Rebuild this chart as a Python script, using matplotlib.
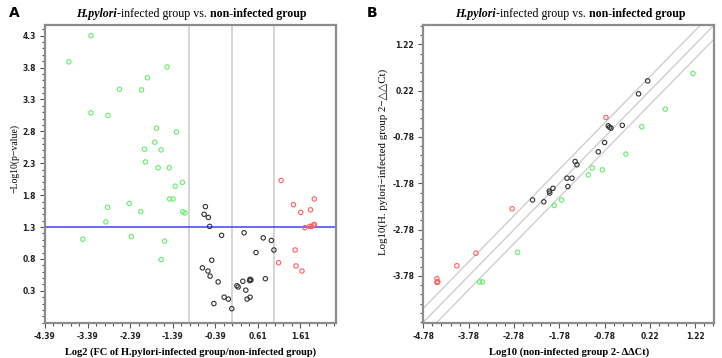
import numpy as np
import matplotlib
matplotlib.use("Agg")
import matplotlib.pyplot as plt
from matplotlib.ticker import MultipleLocator, FixedLocator
from matplotlib.offsetbox import TextArea, HPacker, AnnotationBbox

# ---- panel A: volcano plot, log2 fold change vs -log10(p) ----
a_green_x = [-3.31, -3.83, -1.52, -1.98, -2.64, -2.12, -3.31, -2.91, -1.77, -1.30,
             -1.81, -2.05, -1.66, -2.03, -1.73, -1.47, -1.16, -1.33, -1.46, -1.38,
             -2.92, -2.41, -2.14, -1.15, -1.10, -2.96, -3.50, -2.36, -1.58, -1.66]
a_green_y = [4.30, 3.89, 3.81, 3.64, 3.46, 3.45, 3.09, 3.05, 2.85, 2.79,
             2.63, 2.52, 2.51, 2.32, 2.23, 2.23, 2.00, 1.94, 1.74, 1.74,
             1.61, 1.67, 1.54, 1.54, 1.52, 1.38, 1.11, 1.15, 1.08, 0.79]
a_black_x = [-0.62, -0.65, -0.55, -0.52, -0.24, 0.29, 0.74, 0.93, 0.99, 0.57,
             -0.47, -0.69, -0.56, -0.51, -0.32, 0.12, 0.15, 0.26, 0.43, 0.45,
             0.42, 0.79, 0.33, -0.18, -0.08, 0.36, 0.43, -0.42, 0.00]
a_black_y = [1.62, 1.50, 1.45, 1.31, 1.17, 1.21, 1.13, 1.09, 0.94, 0.90,
             0.78, 0.66, 0.61, 0.53, 0.44, 0.38, 0.36, 0.45, 0.48, 0.47,
             0.46, 0.49, 0.31, 0.20, 0.17, 0.17, 0.20, 0.10, 0.02]
a_red_x = [1.16, 1.45, 1.62, 1.94, 1.85, 1.72, 1.83, 1.88, 1.92, 1.94,
           1.49, 1.10, 1.51, 1.65]
a_red_y = [2.03, 1.65, 1.53, 1.74, 1.57, 1.29, 1.31, 1.31, 1.33, 1.34,
           0.94, 0.74, 0.69, 0.61]
a_xticks = [-4.39, -3.39, -2.39, -1.39, -0.39, 0.61, 1.61]
a_yticks = [0.3, 0.8, 1.3, 1.8, 2.3, 2.8, 3.3, 3.8, 4.3]
a_fc_lines = [-1, 0, 1]
a_p_line = 1.3

# ---- panel B: scatter of log10 2^-ddCt, infected vs non-infected ----
b_green_x = [1.17, 0.56, 0.04, -0.31, -1.05, -0.83, -1.14, -1.89, -1.73, -2.70,
             -3.54, -3.48]
b_green_y = [0.59, -0.18, -0.56, -1.15, -1.45, -1.49, -1.60, -2.26, -2.14, -3.27,
             -3.91, -3.91]
b_black_x = [0.17, -0.03, -0.70, -0.67, -0.64, -0.39, -0.78, -0.92, -1.43, -1.39,
             -1.61, -1.50, -1.59, -1.92, -2.00, -1.99, -2.37, -2.12]
b_black_y = [0.43, 0.15, -0.54, -0.57, -0.59, -0.53, -0.90, -1.10, -1.31, -1.38,
             -1.67, -1.67, -1.85, -1.89, -1.95, -1.99, -2.14, -2.18]
b_red_x = [-0.75, -2.82, -3.62, -4.04, -4.48, -4.47, -4.46, -4.48]
b_red_y = [-0.36, -2.33, -3.29, -3.56, -3.84, -3.91, -3.91, -3.92]
b_ticks = [-4.78, -3.78, -2.78, -1.78, -0.78, 0.22, 1.22]
b_fold = np.log10(2)

GREEN = "#66ee66"
RED = "#ff6060"
BLACK = "#333333"
SPINE = "#8c8c8c"
SERIF = ["Liberation Serif", "DejaVu Serif"]

fig = plt.figure(figsize=(7.22, 3.58), dpi=100)
axA = fig.add_axes([0.0623, 0.0986, 0.4031, 0.832])
axB = fig.add_axes([0.5863, 0.0986, 0.4030, 0.832])


def pts(ax, x, y, c):
    ax.scatter(x, y, s=10, facecolors="none", edgecolors=c, linewidths=0.8, zorder=3)


def style(ax):
    for s in ax.spines.values():
        s.set_color(SPINE)
        s.set_linewidth(1.6)
    ax.tick_params(which="both", direction="out", color="#555555", width=0.8)
    ax.tick_params(which="major", length=3.5, labelsize=5.5, pad=3)
    ax.tick_params(which="minor", length=2)
    for lab in ax.get_xticklabels() + ax.get_yticklabels():
        lab.set_fontweight("bold")
        lab.set_family("DejaVu Sans")
        lab.set_color("#222222")


def title(x_frac):
    parts = [TextArea("H.pylori", textprops=dict(family=SERIF, style="italic", weight="bold", size=8.6)),
             TextArea("-infected group vs. ", textprops=dict(family=SERIF, size=8.6)),
             TextArea("non-infected group", textprops=dict(family=SERIF, weight="bold", size=8.6))]
    box = HPacker(children=parts, align="baseline", pad=0, sep=0)
    ab = AnnotationBbox(box, (x_frac, 0.961), xycoords="figure fraction", frameon=False,
                        box_alignment=(0.5, 0.5))
    fig.add_artist(ab)


# panel A
for v in a_fc_lines:
    axA.axvline(v, color="#d2d2d2", lw=1.3, zorder=1)
axA.axhline(a_p_line, color="#4040ff", lw=1.1, zorder=2)
pts(axA, a_green_x, a_green_y, GREEN)
pts(axA, a_black_x, a_black_y, BLACK)
pts(axA, a_red_x, a_red_y, RED)
axA.set_xlim(-4.39, 2.45)
axA.set_ylim(-0.2, 4.47)
axA.xaxis.set_major_locator(FixedLocator(a_xticks))
axA.yaxis.set_major_locator(FixedLocator(a_yticks))
axA.xaxis.set_minor_locator(MultipleLocator(0.2, offset=0.01))
axA.yaxis.set_minor_locator(MultipleLocator(0.1))
axA.set_xticklabels([f"{t:.2f}" for t in a_xticks])
axA.set_yticklabels([f"{t:.1f}" for t in a_yticks])
style(axA)
axA.set_xlabel("Log2 (FC of H.pylori-infected group/non-infected group)", family=SERIF,
               weight="bold", size=7.5, labelpad=5)
axA.set_ylabel("\u2212Log10(p\u2212value)", family=SERIF, size=7)
axA.yaxis.set_label_coords(-0.086, 0.55)
title(0.265)

# panel B
lims = np.array([-4.78, 1.64])
for off in (b_fold, 0, -b_fold):
    axB.plot(lims, lims + off, color="#cfcfcf", lw=1.0, zorder=1)
pts(axB, b_green_x, b_green_y, GREEN)
pts(axB, b_black_x, b_black_y, BLACK)
pts(axB, b_red_x, b_red_y, RED)
axB.set_xlim(-4.78, 1.64)
axB.set_ylim(-4.79, 1.64)
axB.xaxis.set_major_locator(FixedLocator(b_ticks))
axB.yaxis.set_major_locator(FixedLocator(b_ticks[1:]))
axB.xaxis.set_minor_locator(MultipleLocator(0.2, offset=0.02))
axB.yaxis.set_minor_locator(MultipleLocator(0.2, offset=0.02))
axB.set_xticklabels([f"{t:.2f}" for t in b_ticks])
axB.set_yticklabels([f"{t:.2f}" for t in b_ticks[1:]])
style(axB)
axB.set_xlabel("Log10 (non-infected group 2- \u0394\u0394Ct)", family=SERIF, weight="bold",
               size=7.6, labelpad=5)
axB.set_ylabel("Log10(H. pylori\u2212infected group 2\u2212\u25b3\u25b3Ct)", family=SERIF,
               size=7.8)
axB.yaxis.set_label_coords(-0.121, 0.54)
title(0.79)

fig.text(0.012, 0.965, "A", weight="bold", size=10, family="DejaVu Sans", va="center")
fig.text(0.508, 0.965, "B", weight="bold", size=10, family="DejaVu Sans", va="center")

fig.savefig("out.png", dpi=100)
